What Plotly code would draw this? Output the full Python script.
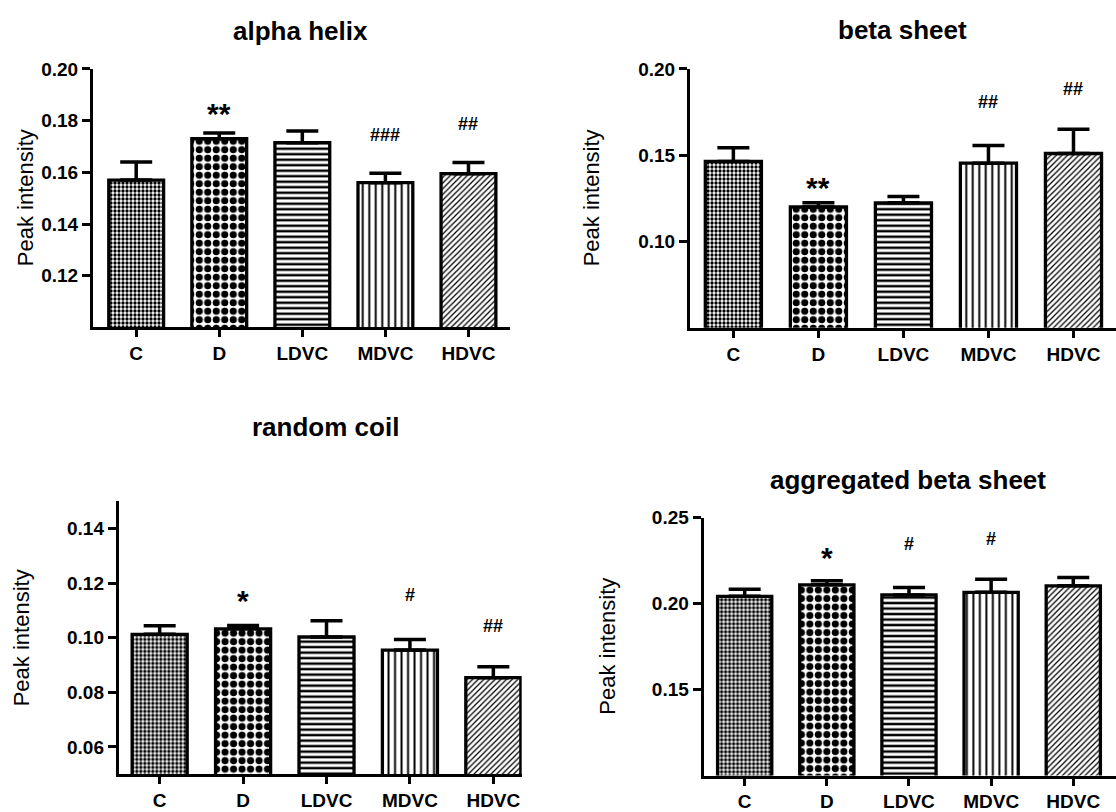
import plotly.graph_objects as go

W, H = 1116, 812
FONT = "Liberation Sans, Arial, sans-serif"

categories = ["C", "D", "LDVC", "MDVC", "HDVC"]
panel_titles = ["alpha helix", "beta sheet", "random coil", "aggregated beta sheet"]
y_label = "Peak intensity"

# panel 1: alpha helix
alpha_mean = [0.157, 0.173, 0.1715, 0.156, 0.1595]
alpha_err = [0.007, 0.0022, 0.0045, 0.0037, 0.0043]
alpha_sig = ["", "**", "", "###", "##"]
alpha_sig_y = [None, 0.1856, None, 0.1745, 0.1787]
alpha_ticks = [0.12, 0.14, 0.16, 0.18, 0.20]

# panel 2: beta sheet
beta_mean = [0.1464, 0.1200, 0.1224, 0.1454, 0.1510]
beta_err = [0.0079, 0.0025, 0.0037, 0.0102, 0.0141]
beta_sig = ["", "**", "", "##", "##"]
beta_sig_y = [None, 0.1354, None, 0.1806, 0.1886]
beta_ticks = [0.10, 0.15, 0.20]

# panel 3: random coil
coil_mean = [0.1013, 0.1033, 0.1003, 0.0955, 0.0854]
coil_err = [0.0031, 0.0012, 0.0060, 0.0039, 0.0040]
coil_sig = ["", "*", "", "#", "##"]
coil_sig_y = [None, 0.1162, None, 0.1158, 0.1045]
coil_ticks = [0.06, 0.08, 0.10, 0.12, 0.14]

# panel 4: aggregated beta sheet
agg_mean = [0.2043, 0.2110, 0.2051, 0.2066, 0.2104]
agg_err = [0.0041, 0.0023, 0.0044, 0.0077, 0.0049]
agg_sig = ["", "*", "#", "#", ""]
agg_sig_y = [None, 0.2309, 0.2347, 0.2376, None]
agg_ticks = [0.15, 0.20, 0.25]

# fill patterns per group
pat_shapes = [".", ".", "-", "|", "/"]
pat_sizes = [4, 8.5, 5.5, 6.5, 4]
pat_solid = [0.55, 0.55, 0.45, 0.3, 0.32]

# layout geometry (pixels)
panels = [
    dict(mean=alpha_mean, err=alpha_err, sig=alpha_sig, sig_y=alpha_sig_y, ticks=alpha_ticks,
         px=(93, 510), py=(60, 323), yr=(0.10, 0.20), xr=(-0.52, 4.5),
         title_xy=(300, 21), ylab_x=25),
    dict(mean=beta_mean, err=beta_err, sig=beta_sig, sig_y=beta_sig_y, ticks=beta_ticks,
         px=(690, 1116), py=(60, 323.3), yr=(0.05, 0.20), xr=(-0.51, 4.5),
         title_xy=(902, 20), ylab_x=591),
    dict(mean=coil_mean, err=coil_err, sig=coil_sig, sig_y=coil_sig_y, ticks=coil_ticks,
         px=(118.8, 521.7), py=(500, 777.7), yr=(0.05, 0.15), xr=(-0.49, 4.34),
         title_xy=(325, 424), ylab_x=21.5),
    dict(mean=agg_mean, err=agg_err, sig=agg_sig, sig_y=agg_sig_y, ticks=agg_ticks,
         px=(703.6, 1116), py=(516.7, 779), yr=(0.10, 0.25), xr=(-0.5, 4.52),
         title_xy=(908, 478), ylab_x=608),
]

fig = go.Figure()
annotations = []
layout_axes = {}

for i, p in enumerate(panels):
    n = i + 1
    xa = "x" if n == 1 else f"x{n}"
    ya = "y" if n == 1 else f"y{n}"
    fig.add_trace(go.Bar(
        x=categories, y=p["mean"], width=0.66,
        xaxis=xa, yaxis=ya, showlegend=False,
        marker=dict(color="white", line=dict(color="black", width=3.3),
                    pattern=dict(shape=pat_shapes, size=pat_sizes, solidity=pat_solid,
                                 fgcolor="black", bgcolor="white", fgopacity=1)),
        error_y=dict(type="data", symmetric=False, array=p["err"], arrayminus=[0] * 5,
                     color="black", thickness=3.5, width=16),
    ))
    x0, x1 = p["px"]
    yt, yb = p["py"]
    layout_axes["xaxis" if n == 1 else f"xaxis{n}"] = dict(
        domain=[x0 / W, x1 / W], anchor=ya, range=list(p["xr"]), type="category",
        showline=True, linewidth=3, linecolor="black", ticks="outside", ticklen=7,
        tickwidth=3, tickcolor="black", showgrid=False, zeroline=False,
        tickfont=dict(family=FONT, size=19, color="black", weight="bold"),
    )
    layout_axes["yaxis" if n == 1 else f"yaxis{n}"] = dict(
        domain=[1 - yb / H, 1 - yt / H], anchor=xa, range=list(p["yr"]),
        tickvals=p["ticks"], tickformat=".2f",
        showline=True, linewidth=3, linecolor="black", ticks="outside", ticklen=8,
        tickwidth=3, tickcolor="black", showgrid=False, zeroline=False,
        tickfont=dict(family=FONT, size=19, color="black", weight="bold"),
    )
    tx, ty = p["title_xy"]
    annotations.append(dict(text=panel_titles[i], xref="paper", yref="paper",
                            x=tx / W, y=1 - ty / H, xanchor="center", yanchor="middle",
                            showarrow=False,
                            font=dict(family=FONT, size=26, color="black", weight="bold")))
    annotations.append(dict(text=y_label, xref="paper", yref="paper", textangle=-90,
                            x=p["ylab_x"] / W, y=1 - (yt + yb) / 2 / H,
                            xanchor="center", yanchor="middle", showarrow=False,
                            font=dict(family=FONT, size=22, color="black")))
    for c, s, sy in zip(categories, p["sig"], p["sig_y"]):
        if not s:
            continue
        star = s.startswith("*")
        annotations.append(dict(text=s, xref=xa, yref=ya, x=c, y=sy,
                                xanchor="center", yanchor="middle", showarrow=False,
                                yshift=-7 if star else 0,
                                font=dict(family=FONT, size=30 if star else 18,
                                          color="black", weight="bold")))

fig.update_layout(
    width=W, height=H, margin=dict(l=0, r=0, t=0, b=0),
    paper_bgcolor="white", plot_bgcolor="white",
    annotations=annotations, bargap=0.3, **layout_axes,
)

fig.write_html("out.html")
